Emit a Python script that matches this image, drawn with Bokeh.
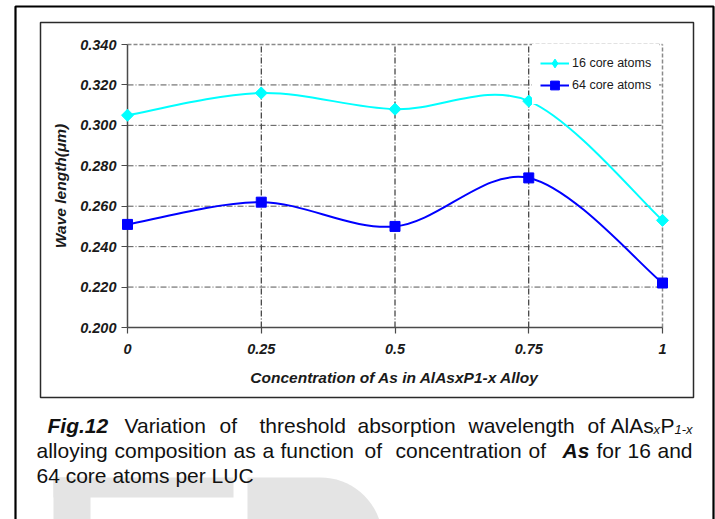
import math

from bokeh.plotting import figure
from bokeh.models import (Range1d, FixedTicker, LinearAxis, Legend, LegendItem)
from bokeh.core.properties import value
from bokeh.embed import file_html
from bokeh.resources import INLINE

# Concentration of As (x in AlAs_xP_1-x) and threshold wavelength (um)
conc = [0, 0.25, 0.5, 0.75, 1]
wl_16_core = [0.305, 0.316, 0.308, 0.312, 0.253]
wl_64_core = [0.251, 0.262, 0.250, 0.274, 0.222]

x_ticks = [0, 0.25, 0.5, 0.75, 1]
x_tick_labels = ["0", "0.25", "0.5", "0.75", "1"]
y_ticks = [0.200, 0.220, 0.240, 0.260, 0.280, 0.300, 0.320, 0.340]
y_tick_labels = ["0.200", "0.220", "0.240", "0.260", "0.280", "0.300", "0.320", "0.340"]

series_names = ["16 core atoms", "64 core atoms"]

FONT = "Liberation Sans"
W, H = 715, 519
# plot area of the chart, in page pixels
FL, FR, FT, FB = 127, 662, 44, 327

x_lo, x_hi = x_ticks[0], x_ticks[-1]
y_lo, y_hi = y_ticks[0], y_ticks[-1]
kx = (x_hi - x_lo) / (FR - FL)
ky = (y_hi - y_lo) / (FB - FT)

# The canvas itself is the frame: the default ranges are page pixels (y down),
# the chart lives on extra ranges laid over the plot area.
p = figure(width=W, height=H, output_backend="svg", toolbar_location=None,
           x_range=Range1d(0, W), y_range=Range1d(H, 0),
           x_axis_location=None, y_axis_location=None,
           min_border=0, background_fill_color="white", border_fill_color="white")
p.outline_line_color = None
for g in p.grid:
    g.visible = False

p.extra_x_ranges = {"cx": Range1d(x_lo - FL * kx, x_hi + (W - FR) * kx)}
p.extra_y_ranges = {"cy": Range1d(y_lo - (H - FB) * ky, y_hi + FT * ky)}
CH = dict(x_range_name="cx", y_range_name="cy")

# ---- page decorations (page pixels) ----
WM = "#e4e4e4"
p.quad(left=[53, 53], right=[233, 90], top=[477, 477], bottom=[497, 530],
       fill_color=WM, line_color=None)
cx_r, cy_r, rad = 320, 539, 62
arc = [(cx_r + rad * math.cos(math.radians(a)), cy_r - rad * math.sin(math.radians(a)))
       for a in range(90, -1, -5)]
r_pts = [(247, 540), (247, 477)] + arc + [(cx_r + rad, 540)]
p.patch([a for a, _ in r_pts], [b for _, b in r_pts], fill_color=WM, line_color=None)

p.quad(left=15, right=713, top=6, bottom=540, fill_alpha=0,
       line_color="black", line_width=2.2)
p.quad(left=40, right=693, top=22, bottom=397, fill_alpha=0,
       line_color="#2a2a2a", line_width=1.5)

cap_style = dict(text_font=value(FONT), text_font_size=value("21px"),
                 text_color="#111111", text_align="left", text_baseline="alphabetic")
sub_style = dict(text_font=value(FONT), text_font_size=value("13px"),
                 text_font_style="italic", text_color="#111111",
                 text_align="left", text_baseline="alphabetic")

# Caption lines (justified word by word)
line1 = [("Variation", 124), ("of", 219), ("threshold", 259), ("absorption", 357),
         ("wavelength", 468), ("of", 587), ("AlAs", 610), ("P", 660)]
line2 = [("alloying", 36), ("composition", 114), ("as", 233), ("a", 262),
         ("function", 280), ("of", 364), ("concentration", 395), ("of", 528),
         ("for", 596), ("16", 627), ("and", 657)]
line3 = [("64 core atoms per  LUC", 36)]
words, wx, wy = [], [], []
for ln, base in ((line1, 425), (line2, 450), (line3, 475)):
    for t, X in ln:
        words.append(t); wx.append(X); wy.append(base)
p.text(wx, wy, text=words, **cap_style)
p.text([47, 562], [425, 450], text=["Fig.12", "As"], text_font_style="bold italic",
       **cap_style)
p.text([653, 674], [429, 429], text=["x", "1-x"], **sub_style)

# ---- chart ----
# dash-dot grid lines at the inner ticks, plot-area edges in grey dashes
gx = x_ticks[1:-1]
p.segment(x0=gx, y0=[y_lo] * len(gx), x1=gx, y1=[y_hi] * len(gx),
          line_color="#111111", line_width=1, line_dash="6 2 1 2", **CH)
gy = y_ticks[1:-1]
p.segment(x0=[x_lo] * len(gy), y0=gy, x1=[x_hi] * len(gy), y1=gy,
          line_color="#555555", line_width=1, line_dash="6 2 1 2", **CH)
p.segment(x0=[x_lo, x_hi], y0=[y_hi, y_lo], x1=[x_hi, x_hi], y1=[y_hi, y_hi],
          line_color="#8a8a8a", line_width=1.5, line_dash="4 2", **CH)


def smooth_segments(xs, ys):
    """Cubic Bezier pieces through the points (Catmull-Rom style smoothing)."""
    n = len(xs)
    seg = dict(x0=[], y0=[], x1=[], y1=[], cx0=[], cy0=[], cx1=[], cy1=[])
    for i in range(n - 1):
        ip = max(i - 1, 0)
        inx = min(i + 2, n - 1)
        seg["x0"].append(xs[i]); seg["y0"].append(ys[i])
        seg["x1"].append(xs[i + 1]); seg["y1"].append(ys[i + 1])
        seg["cx0"].append(xs[i] + (xs[i + 1] - xs[ip]) / 6)
        seg["cy0"].append(ys[i] + (ys[i + 1] - ys[ip]) / 6)
        seg["cx1"].append(xs[i + 1] - (xs[inx] - xs[i]) / 6)
        seg["cy1"].append(ys[i + 1] - (ys[inx] - ys[i]) / 6)
    return seg


c16 = "#00FFFF"
c64 = "#0000FF"

b16 = p.bezier(line_color=c16, line_width=2, **smooth_segments(conc, wl_16_core), **CH)
d16 = p.scatter(conc, wl_16_core, marker="diamond", size=11,
                fill_color=c16, line_color=c16, level="overlay", **CH)
s16 = p.scatter(conc, wl_16_core, marker="square", angle=math.pi / 4, size=8.5,
                fill_color=c16, line_color=c16, level="overlay", **CH)
b64 = p.bezier(line_color=c64, line_width=2, **smooth_segments(conc, wl_64_core), **CH)
s64 = p.scatter(conc, wl_64_core, marker="square", size=10,
                fill_color=c64, line_color=c64, level="overlay", **CH)

# ---- axes, pinned to the chart's own ranges ----
xaxis = LinearAxis(fixed_location=y_lo, bounds=(x_lo, x_hi), **CH)
yaxis = LinearAxis(fixed_location=x_lo, bounds=(y_lo, y_hi), **CH)
for ax in (xaxis, yaxis):
    ax.axis_line_color = "#4a4a4a"
    ax.axis_line_width = 1.5
    ax.major_tick_line_color = "#4a4a4a"
    ax.major_tick_line_width = 1.2
    ax.major_tick_in = 0
    ax.major_tick_out = 6
    ax.minor_tick_line_color = None
    ax.major_label_text_font = FONT
    ax.major_label_text_font_style = "bold italic"
    ax.major_label_text_font_size = "14.5px"
    ax.major_label_text_color = "#1a1a1a"
    ax.axis_label_text_font = FONT
    ax.axis_label_text_font_style = "bold italic"
    ax.axis_label_text_font_size = "15.5px"
    ax.axis_label_text_color = "#1a1a1a"

xaxis.ticker = FixedTicker(ticks=x_ticks)
xaxis.major_label_overrides = dict(zip(x_ticks, x_tick_labels))
xaxis.major_label_standoff = 10
xaxis.axis_label = "Concentration of As in AlAsxP1-x Alloy"
xaxis.axis_label_standoff = 12

yaxis.ticker = FixedTicker(ticks=y_ticks)
yaxis.major_label_overrides = dict(zip(y_ticks, y_tick_labels))
yaxis.major_label_standoff = 5
yaxis.axis_label = "Wave length(\u03bcm)"
yaxis.axis_label_standoff = 8

p.add_layout(xaxis, "below")
p.add_layout(yaxis, "left")

legend = Legend(items=[LegendItem(label=series_names[0], renderers=[b16, d16]),
                       LegendItem(label=series_names[1], renderers=[b64, s64])],
                location=(532, H - FT - 60), margin=0, padding=8, spacing=0,
                glyph_width=29, glyph_height=22, label_standoff=3,
                label_text_font=FONT, label_text_font_size="12.5px",
                label_text_color="#1a1a1a",
                border_line_alpha=0, background_fill_color="white",
                background_fill_alpha=1)
p.add_layout(legend)

open("out.html", "w").write(file_html(p, INLINE))
